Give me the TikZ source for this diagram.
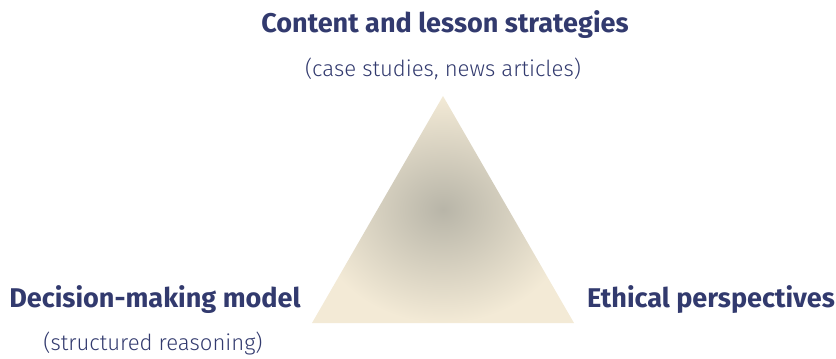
\documentclass[tikz,border=0pt]{standalone}
\usepackage{fontspec}
\setmainfont{Fira Sans}
\newfontfamily\lightfont{Fira Sans Light}
\usepackage{xcolor}
\usepackage{tikz}
\usetikzlibrary{positioning,calc,shadings}

\definecolor{navy}{RGB}{50,58,110}
\definecolor{sand}{RGB}{243,234,214}
\definecolor{stone}{RGB}{184,181,168}

\begin{document}
\begin{tikzpicture}[
    x=0.75pt, y=-0.75pt,
    heading/.style={font=\fontsize{20.3}{22}\selectfont\bfseries, text=navy, inner sep=0pt},
    note/.style={font=\lightfont\fontsize{16.6}{19}\selectfont, text=navy, inner sep=0pt}
]
    \useasboundingbox (0,0) rectangle (836,358);

    % Triangle with soft centre
    \coordinate (apex) at (443,96);
    \coordinate (left) at (312,323);
    \coordinate (right) at (574,323);
    \shade[inner color=stone, outer color=sand] (apex) -- (right) -- (left) -- cycle;

    % Corner labels
    \node[heading] (content) at (445,25) {Content and lesson strategies};
    \node[note] (contentnote) at (443,69) {(case studies, news articles)};
    \node[heading] (decision) at (155,300) {Decision-making model};
    \node[note] (decisionnote) at (153,343) {(structured reasoning)};
    \node[heading] (ethics) at (711,300) {Ethical perspectives};
\end{tikzpicture}
\end{document}
